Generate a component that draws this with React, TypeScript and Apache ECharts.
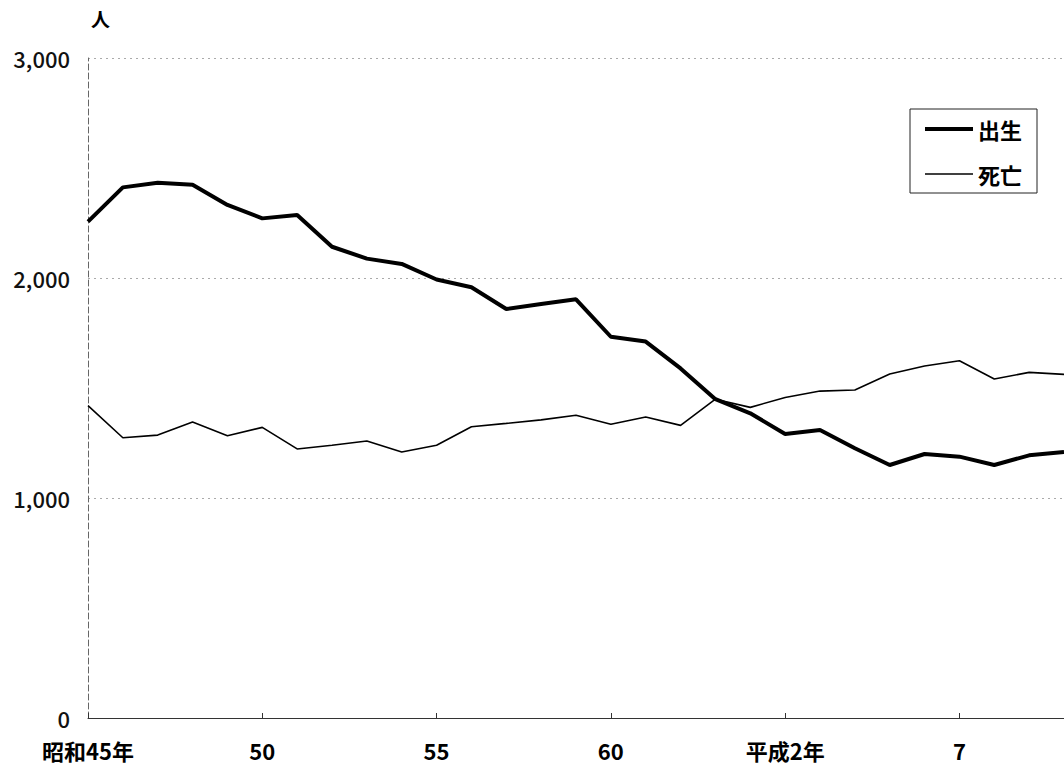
import React, { useEffect, useRef } from "react";
import * as echarts from "echarts";

// Categories: 昭和45年 (1970) … 平成10年 (1998)
const categories = [
  "昭和45年", "46", "47", "48", "49", "50", "51", "52", "53", "54",
  "55", "56", "57", "58", "59", "60", "61", "62", "63", "平成元年",
  "平成2年", "3", "4", "5", "6", "7", "8", "9", "10",
];

const births = [
  2256, 2412, 2433, 2424, 2332, 2271, 2286, 2142, 2088, 2064,
  1993, 1958, 1859, 1882, 1903, 1733, 1711, 1589, 1449, 1385,
  1291, 1309, 1226, 1150, 1200, 1188, 1150, 1194, 1209,
];

const deaths = [
  1420, 1274, 1286, 1345, 1283, 1321, 1223, 1240, 1259, 1209,
  1240, 1324, 1339, 1355, 1376, 1335, 1368, 1330, 1449, 1412,
  1457, 1486, 1491, 1564, 1600, 1624, 1541, 1571, 1562,
];

const seriesNames = ["出生", "死亡"];
const yTicks = [0, 1000, 2000, 3000];
const unitLabel = "人";

const FONT = '"Noto Sans CJK JP", "Noto Sans", sans-serif';

export default function App() {
  const ref = useRef<HTMLDivElement>(null);

  useEffect(() => {
    if (!ref.current) return;
    const chart = echarts.init(ref.current, undefined, { renderer: "svg" });
    chart.setOption({
      animation: false,
      backgroundColor: "#ffffff",
      textStyle: { fontFamily: FONT },
      grid: { left: 88, top: 58, bottom: 49, right: -7, containLabel: false },
      legend: {
        orient: "vertical",
        left: 910,
        top: 109,
        padding: [9, 15, 8, 15],
        itemGap: 23,
        itemWidth: 48,
        itemHeight: 14,
        borderColor: "#222",
        borderWidth: 1,
        itemStyle: { color: "#000", borderWidth: 0 },
        data: [
          { name: seriesNames[0], icon: "path://M0,0H48V4H0Z" },
          { name: seriesNames[1], icon: "path://M0,0H48V1.6H0Z" },
        ],
        textStyle: { fontSize: 22, fontWeight: "bold", color: "#000", fontFamily: FONT },
      },
      xAxis: {
        type: "category",
        data: categories,
        boundaryGap: false,
        axisLine: { lineStyle: { color: "#333", width: 1 } },
        axisTick: { show: true, inside: true, length: 5, interval: 4, lineStyle: { color: "#333" } },
        axisLabel: {
          interval: 4,
          margin: 21,
          fontSize: 22,
          fontWeight: "bold",
          color: "#000",
          fontFamily: FONT,
        },
        splitLine: { show: false },
      },
      yAxis: {
        type: "value",
        min: yTicks[0],
        max: yTicks[yTicks.length - 1],
        interval: 1000,
        axisLine: { show: true, lineStyle: { color: "#666", width: 1, type: [6, 3] } },
        axisTick: { show: false },
        axisLabel: {
          margin: 18,
          fontSize: 22,
          fontWeight: 500,
          color: "#111",
          fontFamily: FONT,
          formatter: (v: number) => v.toLocaleString("en-US"),
        },
        splitLine: { show: true, lineStyle: { color: "#aaa", width: 1, type: [2, 4] } },
      },
      graphic: [
        {
          type: "text",
          left: 91,
          top: 9,
          style: { text: unitLabel, fontSize: 19, fontWeight: "bold", fill: "#000", fontFamily: FONT },
        },
      ],
      series: [
        {
          name: seriesNames[0],
          type: "line",
          data: births,
          symbol: "none",
          lineStyle: { color: "#000", width: 4 },
          itemStyle: { color: "#000" },
        },
        {
          name: seriesNames[1],
          type: "line",
          data: deaths,
          symbol: "none",
          lineStyle: { color: "#000", width: 1.6 },
          itemStyle: { color: "#000" },
        },
      ],
    });
    return () => chart.dispose();
  }, []);

  return (
    <div
      ref={ref}
      style={{ position: "absolute", left: 0, top: 0, width: 1064, height: 767 }}
    />
  );
}
